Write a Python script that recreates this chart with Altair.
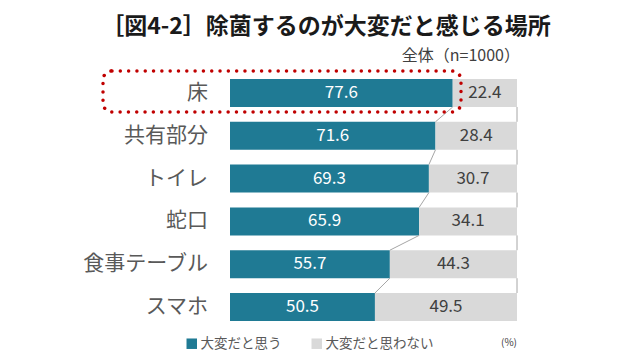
import altair as alt
import pandas as pd

# ---- data ----
categories = ["床", "共有部分", "トイレ", "蛇口", "食事テーブル", "スマホ"]
hard = [77.6, 71.6, 69.3, 65.9, 55.7, 50.5]
not_hard = [22.4, 28.4, 30.7, 34.1, 44.3, 49.5]
series_names = ["大変だと思う", "大変だと思わない"]
title_text = "［図4-2］除菌するのが大変だと感じる場所"
subtitle_text = "全体（n=1000）"
unit_text = "(%)"

TEAL = "#1f7a94"
GRAY = "#d9d9d9"
FONT = "Noto Sans CJK JP"
HALF = 0.327  # half bar thickness in row units

rows = []
for i, c in enumerate(categories):
    rows.append(dict(cat=c, row=i + 0.5, series=series_names[0], start=0.0,
                     end=hard[i], val=hard[i]))
    rows.append(dict(cat=c, row=i + 0.5, series=series_names[1], start=hard[i],
                     end=hard[i] + not_hard[i], val=not_hard[i]))
bars_df = pd.DataFrame(rows)

line_rows = []
for i in range(len(categories) - 1):
    line_rows.append(dict(xa=hard[i], xb=hard[i + 1], ra=i + 0.5, rb=i + 1.5))
    line_rows.append(dict(xa=hard[i] + not_hard[i], xb=hard[i + 1] + not_hard[i + 1],
                          ra=i + 0.5, rb=i + 1.5))
lines_df = pd.DataFrame(line_rows)

cat_df = pd.DataFrame(dict(cat=categories, row=[i + 0.5 for i in range(len(categories))]))

xs = alt.Scale(domain=[0, 100], nice=False, zero=True)
ys = alt.Scale(domain=[0, len(categories)], reverse=True, nice=False, zero=False)

base = alt.Chart(bars_df).transform_calculate(
    top="datum.row - %f" % HALF, bot="datum.row + %f" % HALF,
    mid="(datum.start + datum.end) / 2")

bars = base.mark_rect().encode(
    x=alt.X("start:Q", scale=xs, axis=None),
    x2="end:Q",
    y=alt.Y("top:Q", scale=ys, axis=None),
    y2="bot:Q",
    color=alt.Color("series:N", scale=alt.Scale(domain=series_names, range=[TEAL, GRAY]),
                    legend=alt.Legend(title=None, orient="none", legendX=-45, legendY=265,
                                      direction="horizontal", symbolType="square",
                                      symbolSize=110, symbolStrokeWidth=0,
                                      labelFont=FONT, labelFontSize=13.5, labelColor="#595959",
                                      labelOffset=2, columnPadding=28)),
)

labels_hard = base.transform_filter(alt.datum.series == series_names[0]).mark_text(
    font=FONT, fontSize=17, baseline="middle", color="#ffffff").encode(
    x=alt.X("mid:Q", scale=xs),
    y=alt.Y("row:Q", scale=ys),
    text=alt.Text("val:Q", format=".1f"),
)

labels_not = base.transform_filter(alt.datum.series == series_names[1]).mark_text(
    font=FONT, fontSize=17, baseline="middle", color="#404040").encode(
    x=alt.X("mid:Q", scale=xs),
    y=alt.Y("row:Q", scale=ys),
    text=alt.Text("val:Q", format=".1f"),
)

series_lines = alt.Chart(lines_df).transform_calculate(
    ya="datum.ra + %f" % HALF, yb="datum.rb - %f" % HALF
).mark_rule(color="#a6a6a6", strokeWidth=1).encode(
    x=alt.X("xa:Q", scale=xs), x2="xb:Q",
    y=alt.Y("ya:Q", scale=ys), y2="yb:Q",
)

cat_labels = alt.Chart(cat_df).mark_text(font=FONT, fontSize=21, align="right",
                                         baseline="middle", color="#595959").encode(
    x=alt.value(-22),
    y=alt.Y("row:Q", scale=ys),
    text="cat:N",
)

one = pd.DataFrame({"t": [title_text], "s": [subtitle_text], "u": [unit_text]})

title = alt.Chart(one).mark_text(font=FONT, fontSize=23, fontWeight="bold",
                                 color="#1a1a1a", align="center", baseline="middle").encode(
    x=alt.value(96), y=alt.value(-44.6), text="t:N")

subtitle = alt.Chart(one).mark_text(font=FONT, fontSize=16, color="#404040",
                                    align="right", baseline="middle").encode(
    x=alt.value(290), y=alt.value(-16), text="s:N")

unit = alt.Chart(one).mark_text(font=FONT, fontSize=10, color="#404040",
                                align="center", baseline="middle").encode(
    x=alt.value(279), y=alt.value(271.4), text="u:N")

box = alt.Chart(one).mark_rect(filled=False, stroke="#c00000", strokeWidth=3.5,
                               strokeDash=[0.01, 8.3], strokeCap="round",
                               cornerRadius=9).encode(
    x=alt.value(-127), x2=alt.value(231), y=alt.value(-0.6), y2=alt.value(40.4))

chart = alt.layer(bars, series_lines, labels_hard, labels_not, cat_labels, title, subtitle,
                  unit, box).properties(
    width=287, height=256.8,
    autosize=alt.AutoSizeParams(type="none"),
    padding={"left": 222, "top": 63.6, "right": 115, "bottom": 23.6},
    background="white",
).configure_view(stroke=None)

chart.save("out.html", embed_options={"renderer": "svg", "actions": False})
